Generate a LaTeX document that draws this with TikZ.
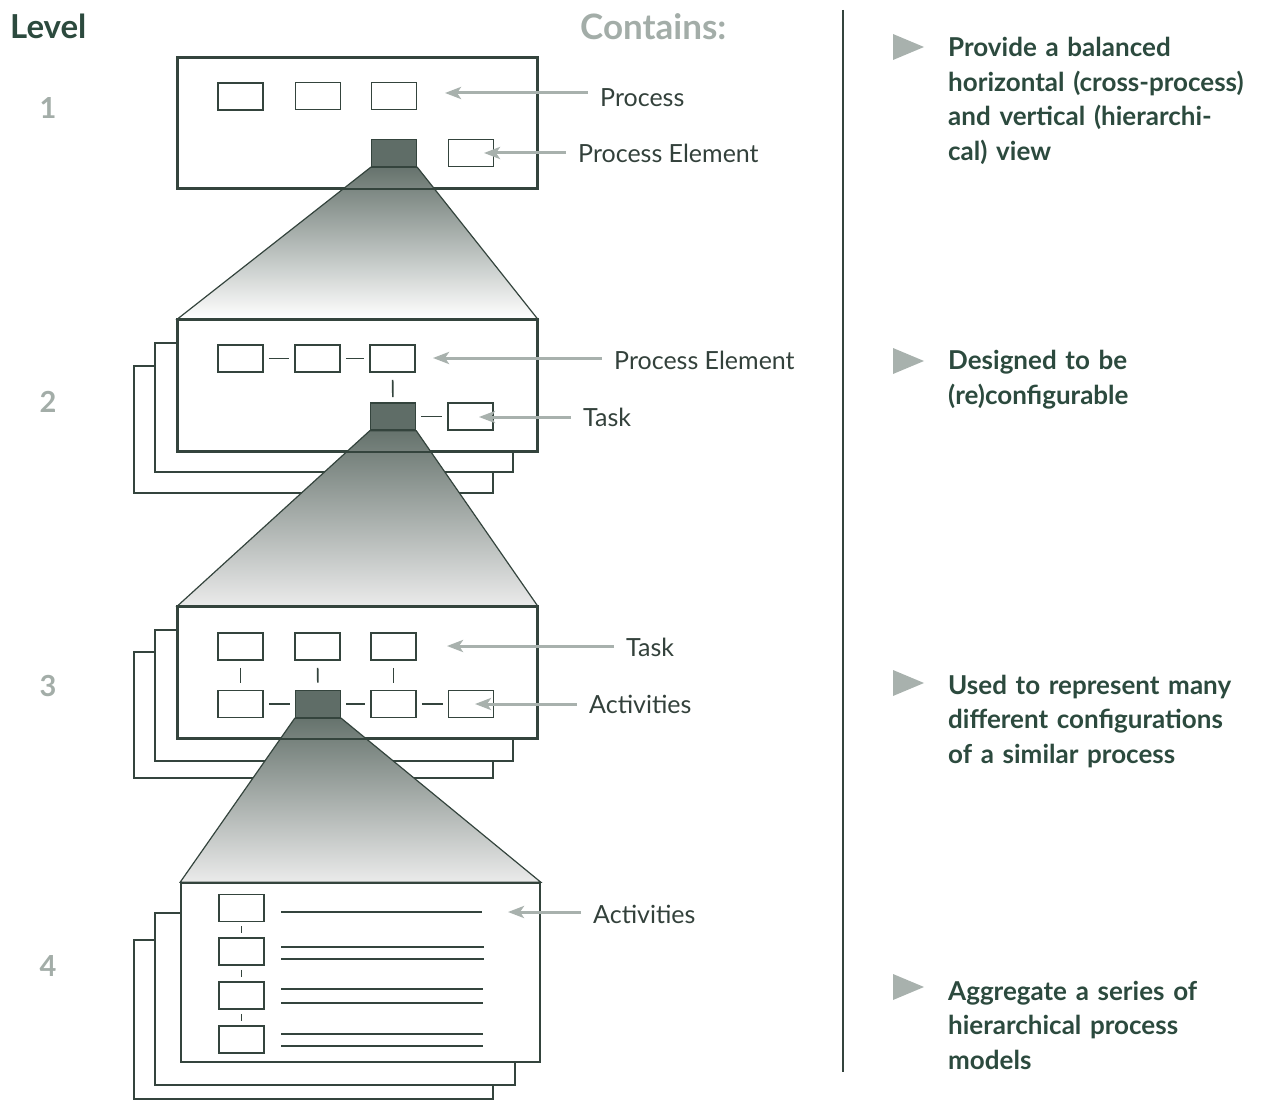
\documentclass[tikz,border=0pt]{standalone}
\usepackage{fontspec}
\setmainfont{Lato}
\usetikzlibrary{arrows.meta}
\definecolor{ink}{HTML}{34443D}
\definecolor{txt}{HTML}{33413B}
\definecolor{boldtxt}{HTML}{2C4A3E}
\definecolor{numgray}{HTML}{A3ADA8}
\definecolor{arrowc}{HTML}{A8B1AD}
\definecolor{darkfill}{HTML}{5F6D67}
\definecolor{funtop}{HTML}{66736D}
\definecolor{funmid}{HTML}{B9C1BD}
\begin{document}
\begin{tikzpicture}[x=1pt,y=-1pt,
  frame/.style={draw=ink, line width=1.6pt, fill=white, inner sep=0pt},
  frameline/.style={draw=ink, line width=1.6pt},
  sbox/.style={draw=ink, line width=1.6pt, fill=white, inner sep=0pt,
    minimum width=45pt, minimum height=27pt},
  dbox/.style={sbox, fill=darkfill},
  link/.style={draw=ink, line width=1.6pt, shorten <=5pt, shorten >=5pt},
  rule/.style={draw=ink, line width=1.6pt},
  arr/.style={draw=arrowc, line width=3pt, shorten <=12pt,
    -{Stealth[length=16pt,width=12pt,inset=4pt]}},
  lab/.style={anchor=base west, inner sep=0pt, text=txt,
    font=\fontsize{25}{30}\selectfont},
  lvl/.style={text=numgray, font=\fontsize{29}{34}\bfseries\selectfont},
  note/.style={anchor=base west, inner sep=0pt, text=boldtxt, align=left,
    text width=320pt, font=\fontsize{26}{34.5}\bfseries\selectfont},
  bullet/.style={fill=arrowc, draw=none},
  funnel/.style={draw=ink, line width=1.2pt, top color=funtop,
    middle color=funmid, bottom color=white}
]
\useasboundingbox (0,0) rectangle (1262,1102);

% headings and level numbers
\node[anchor=base west, inner sep=0pt, text=boldtxt,
  font=\fontsize{33}{38}\bfseries\selectfont] (hlevel) at (10,39) {Level};
\node[anchor=base west, inner sep=0pt, text=numgray,
  font=\fontsize{35}{40}\bfseries\selectfont] (hcont) at (580,40) {Contains:};
\node[lvl] (n1) at (48,108) {1};
\node[lvl] (n2) at (48,402) {2};
\node[lvl] (n3) at (48,686) {3};
\node[lvl] (n4) at (48,966) {4};

% divider
\coordinate (dtop) at (843,10);
\coordinate (dbot) at (843,1072);
\draw[ink, line width=1.5pt] (dtop) -- (dbot);

% ---------------- level 1 ----------------
\node[frame, minimum width=359pt, minimum height=130pt] (L1) at (357.5,123) {};
\node[sbox] (a1) at (240.5,96.5) {};
\node[sbox] (a2) at (318,96) {};
\node[sbox] (a3) at (394,96) {};
\node[dbox] (a4) at (394,153) {};
\node[sbox] (a5) at (471,153) {};

% ---------------- level 2 ----------------
\node[frame, minimum width=359pt, minimum height=127pt] (L2c) at (313.5,429.5) {};
\node[frame, minimum width=358pt, minimum height=129pt] (L2b) at (334,407.5) {};
\node[frame, minimum width=359pt, minimum height=131pt] (L2) at (357.5,385.5) {};
\node[sbox] (b1) at (240.5,358.5) {};
\node[sbox] (b2) at (317.5,358.5) {};
\node[sbox] (b3) at (392.5,358.5) {};
\node[dbox] (b4) at (393,416.5) {};
\node[sbox] (b5) at (470.5,416.5) {};
\draw[link] (b1) -- (b2);
\draw[link] (b2) -- (b3);
\draw[link, shorten <=7pt] (b3) -- (b4);
\draw[link] (b4) -- (b5);

% ---------------- level 3 ----------------
\node[frame, minimum width=359pt, minimum height=126pt] (L3c) at (313.5,715) {};
\node[frame, minimum width=358pt, minimum height=131pt] (L3b) at (334,695.5) {};
\node[frame, minimum width=359pt, minimum height=131pt] (L3) at (357.5,672.5) {};
\node[sbox] (c1) at (240.5,646.5) {};
\node[sbox] (c2) at (317.5,646.5) {};
\node[sbox] (c3) at (393.5,646.5) {};
\node[sbox] (c4) at (240.5,704) {};
\node[dbox] (c5) at (318,704) {};
\node[sbox] (c6) at (393.5,704) {};
\node[sbox] (c7) at (471,704) {};
\draw[link, shorten <=7pt, shorten >=7pt] (c1) -- (c4);
\draw[link, shorten <=7pt, shorten >=7pt] (c2) -- (c5);
\draw[link, shorten <=7pt, shorten >=7pt] (c3) -- (c6);
\draw[link] (c4) -- (c5);
\draw[link] (c5) -- (c6);
\draw[link] (c6) -- (c7);

% ---------------- level 4 ----------------
\node[frame, minimum width=359pt, minimum height=159pt] (L4c) at (313.5,1019.5) {};
\node[frame, minimum width=360pt, minimum height=172pt] (L4b) at (335,999) {};
\node[frame, minimum width=359pt, minimum height=179pt] (L4) at (360.5,972.5) {};
\node[sbox] (d1) at (241.5,908) {};
\node[sbox] (d2) at (241.5,951.5) {};
\node[sbox] (d3) at (241.5,995.5) {};
\node[sbox] (d4) at (241.5,1039.5) {};
\draw[link, shorten <=4pt, shorten >=4pt] (d1) -- (d2);
\draw[link, shorten <=4pt, shorten >=4pt] (d2) -- (d3);
\draw[link, shorten <=4pt, shorten >=4pt] (d3) -- (d4);
% activity text lines
\draw[rule] (281,912) -- (482,912);
\draw[rule] (281,947) -- (484,947);
\draw[rule] (281,959) -- (484,959);
\draw[rule] (281,989) -- (483,989);
\draw[rule] (281,1003) -- (483,1003);
\draw[rule] (281,1034) -- (483,1034);
\draw[rule] (281,1046) -- (483,1046);

% ---------------- zoom funnels ----------------
\path[funnel] (a4.south west) -- (a4.south east) -- (L2.north east) -- (L2.north west) -- cycle;
\path[funnel, bottom color=black!8] (b4.south west) -- (b4.south east) -- (L3.north east) -- (L3.north west) -- cycle;
\path[funnel, bottom color=black!8] (c5.south west) -- (c5.south east) -- (L4.north east) -- (L4.north west) -- cycle;
\draw[frameline] (L1.north west) rectangle (L1.south east);
\draw[frameline] (L2.north west) rectangle (L2.south east);
\draw[frameline] (L3.north west) rectangle (L3.south east);

% ---------------- labels with arrows ----------------
\node[lab] (t1a) at (600,107) {Process};
\coordinate (p1a) at (445,93);
\draw[arr] (t1a.west |- p1a) -- (p1a);
\node[lab] (t1b) at (578,163) {Process Element};
\coordinate (p1b) at (484,153);
\draw[arr] (t1b.west |- p1b) -- (p1b);

\node[lab] (t2a) at (614,370) {Process Element};
\coordinate (p2a) at (433,358);
\draw[arr] (t2a.west |- p2a) -- (p2a);
\node[lab] (t2b) at (583,426) {Task};
\coordinate (p2b) at (479,417);
\draw[arr] (t2b.west |- p2b) -- (p2b);

\node[lab] (t3a) at (626,656) {Task};
\coordinate (p3a) at (447,646);
\draw[arr] (t3a.west |- p3a) -- (p3a);
\node[lab] (t3b) at (589,713) {Activities};
\coordinate (p3b) at (475,704);
\draw[arr] (t3b.west |- p3b) -- (p3b);

\node[lab] (t4a) at (593,923) {Activities};
\coordinate (p4a) at (508,912);
\draw[arr] (t4a.west |- p4a) -- (p4a);

% ---------------- right-hand notes ----------------
\fill[bullet] (893,34) -- (924,47) -- (893,60) -- cycle;
\node[note] (r1) at (948,57) {Provide a balanced\\horizontal (cross-process)\\and vertical (hierarchi-\\cal) view};
\fill[bullet] (893,348) -- (924,361) -- (893,374) -- cycle;
\node[note] (r2) at (948,370) {Designed to be\\(re)configurable};
\fill[bullet] (893,670) -- (924,683) -- (893,696) -- cycle;
\node[note] (r3) at (948,694) {Used to represent many\\different configurations\\of a similar process};
\fill[bullet] (893,974) -- (924,987) -- (893,1000) -- cycle;
\node[note] (r4) at (948,1000) {Aggregate a series of\\hierarchical process\\models};
\end{tikzpicture}
\end{document}
